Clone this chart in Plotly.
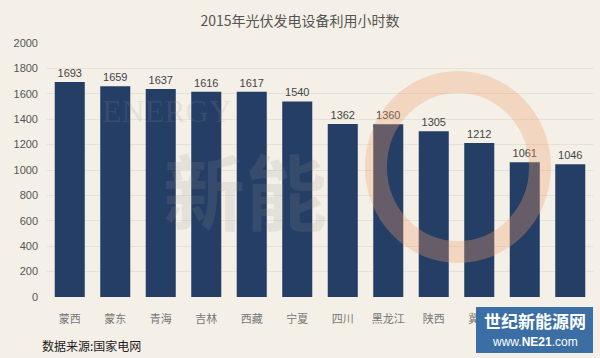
import plotly.graph_objects as go

categories = ["蒙西", "蒙东", "青海", "吉林", "西藏", "宁夏", "四川", "黑龙江", "陕西", "冀北", "甘肃", "新疆"]
hours = [1693, 1659, 1637, 1616, 1617, 1540, 1362, 1360, 1305, 1212, 1061, 1046]
y_ticks = [0, 200, 400, 600, 800, 1000, 1200, 1400, 1600, 1800, 2000]

BG = "#f4f0e7"
BAR = "#253e66"

W, H = 600, 358
ML, MR, MT, MB = 47, 7, 43, 61
PW, PH = W - ML - MR, H - MT - MB


def px(x):
    return (x - ML) / PW


def py(y):
    return (H - MB - y) / PH


fig = go.Figure()
fig.add_trace(go.Bar(
    x=categories, y=hours,
    marker=dict(color=BAR, line=dict(width=0)),
    text=[str(v) for v in hours], textposition="outside",
    textfont=dict(size=11, color="#444444", family="Liberation Sans, Arial"),
    cliponaxis=False, width=0.66,
))

fig.update_layout(
    width=W, height=H,
    paper_bgcolor=BG, plot_bgcolor=BG,
    margin=dict(l=ML, r=MR, t=MT, b=MB),
    showlegend=False,
    title=dict(text="2015年光伏发电设备利用小时数", x=0.5, xanchor="center", y=0.94, yanchor="middle",
               font=dict(size=14, color="#555555", family="Noto Sans CJK SC")),
    xaxis=dict(showgrid=False, showline=False, ticks="", zeroline=False, ticklabelstandoff=14,
               tickfont=dict(size=11, color="#777777", family="Noto Sans CJK SC")),
    yaxis=dict(range=[0, 2000], tickvals=y_ticks, showgrid=True, gridcolor="#e6e1d6", gridwidth=1,
               zeroline=False, showline=False, ticks="", ticklabelstandoff=8,
               tickfont=dict(size=11, color="#555555", family="Liberation Sans, Arial")),
    font=dict(family="Noto Sans CJK SC"),
)

# faint background watermark
fig.add_shape(type="circle", xref="paper", yref="paper",
              x0=px(376), x1=px(540), y0=py(252), y1=py(82),
              line=dict(color="rgba(240,160,110,0.32)", width=22), fillcolor="rgba(0,0,0,0)", layer="above")
fig.add_annotation(text="ENERGY", xref="paper", yref="paper", x=px(167), y=py(111),
                   xanchor="center", yanchor="middle", showarrow=False,
                   font=dict(size=32, color="rgba(150,150,150,0.18)", family="Liberation Serif"))
fig.add_annotation(text="<b>新能</b>", xref="paper", yref="paper", x=px(245), y=py(188),
                   xanchor="center", yanchor="middle", showarrow=False,
                   font=dict(size=82, color="rgba(150,150,150,0.16)", family="Noto Sans CJK SC"))

# source note
fig.add_annotation(text="数据来源:国家电网", xref="paper", yref="paper", x=px(40), y=py(345),
                   xanchor="left", yanchor="middle", showarrow=False,
                   font=dict(size=12, color="#222222", family="Noto Sans CJK SC"))

# logo box
fig.add_shape(type="rect", xref="paper", yref="paper", x0=px(476), x1=px(593), y0=py(353), y1=py(307),
              fillcolor="#3a6ea5", line=dict(width=0), layer="above")
fig.add_annotation(text="<b>世纪新能源网</b>", xref="paper", yref="paper", x=px(534.5), y=py(320),
                   xanchor="center", yanchor="middle", showarrow=False,
                   font=dict(size=17, color="white", family="Noto Sans CJK SC"))
fig.add_annotation(text="www.<b>NE21</b>.com", xref="paper", yref="paper", x=px(534.5), y=py(342),
                   xanchor="center", yanchor="middle", showarrow=False,
                   font=dict(size=12, color="white", family="Liberation Sans, Arial"))

fig.write_html("out.html", config={"displayModeBar": False},
               post_script="document.body.style.margin='0';")
